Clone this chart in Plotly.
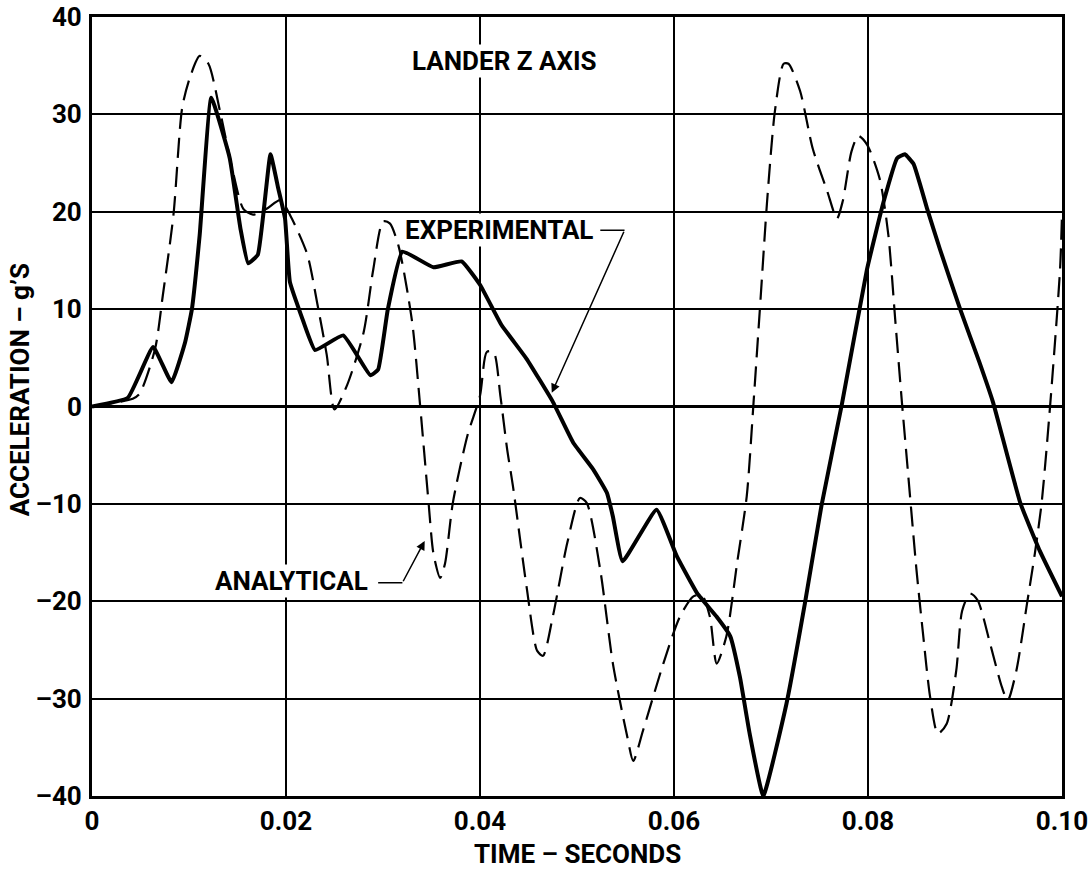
import plotly.graph_objects as go

# Lander Z-axis acceleration response: experimental vs analytical
exp_t = [0.0, 0.0037, 0.0063, 0.0082, 0.0096, 0.0103, 0.0111, 0.0123, 0.0142, 0.0153,
         0.0161, 0.0171, 0.0184, 0.0192, 0.0199, 0.0204, 0.0218, 0.0230, 0.0259, 0.0287,
         0.0295, 0.0305, 0.0320, 0.0352, 0.0381, 0.0400, 0.0422, 0.0448, 0.0475, 0.0496,
         0.0517, 0.0531, 0.0537, 0.0547, 0.0582, 0.0603, 0.0624, 0.0644, 0.0658, 0.0668,
         0.0678, 0.0692, 0.0716, 0.0735, 0.0752, 0.0773, 0.0799, 0.0816, 0.0830, 0.0838,
         0.0847, 0.0861, 0.0874, 0.0895, 0.0915, 0.0929, 0.0957, 0.0977, 0.1000]
exp_g = [0.0, 0.9, 6.1, 2.5, 6.6, 10.0, 17.6, 31.7, 25.5, 18.3,
         14.7, 15.6, 25.9, 22.4, 19.3, 12.8, 8.7, 5.8, 7.3, 3.2,
         3.8, 10.0, 15.9, 14.3, 14.9, 12.5, 8.4, 4.9, 0.5, -3.7,
         -6.5, -8.9, -11.3, -15.9, -10.6, -15.4, -19.2, -21.6, -23.6, -27.8,
         -33.6, -40.0, -30.5, -20.2, -10.2, 0.2, 14.1, 21.0, 25.5, 25.9,
         24.9, 20.3, 16.2, 10.0, 4.5, 0.4, -9.9, -14.8, -19.5]

ana_t = [0.0, 0.0042, 0.0049, 0.0065, 0.0073, 0.0084, 0.0093, 0.0101, 0.0111, 0.0120,
         0.0132, 0.0146, 0.0156, 0.0166, 0.0180, 0.0194, 0.0204, 0.0222, 0.0232, 0.0242,
         0.0250, 0.0263, 0.0280, 0.0290, 0.0300, 0.0307, 0.0316, 0.0330, 0.0338, 0.0347,
         0.0352, 0.0359, 0.0364, 0.0372, 0.0387, 0.0400, 0.0407, 0.0414, 0.0421, 0.0428,
         0.0434, 0.0448, 0.0459, 0.0465, 0.0475, 0.0490, 0.0503, 0.0510, 0.0524, 0.0537,
         0.0552, 0.0558, 0.0568, 0.0589, 0.0606, 0.0620, 0.0629, 0.0637, 0.0644, 0.0654,
         0.0665, 0.0675, 0.0682, 0.0689, 0.0696, 0.0704, 0.0713, 0.0718, 0.0730, 0.0743,
         0.0758, 0.0768, 0.0774, 0.0783, 0.0790, 0.0799, 0.0812, 0.0821, 0.0828, 0.0835,
         0.0841, 0.0850, 0.0857, 0.0864, 0.0872, 0.0881, 0.0891, 0.0897, 0.0905, 0.0913,
         0.0926, 0.0938, 0.0944, 0.0953, 0.0964, 0.0972, 0.0979, 0.0988, 0.0998, 0.1000]
ana_g = [0.0, 0.8, 1.3, 5.9, 11.4, 19.7, 30.7, 33.8, 36.0, 35.2,
         30.3, 23.8, 20.3, 19.7, 20.3, 21.2, 19.7, 15.6, 10.7, 5.3,
         -0.3, 2.2, 7.6, 14.1, 19.0, 18.8, 16.5, 8.7, 0.4, -9.9,
         -15.1, -17.6, -16.1, -9.9, -3.0, 1.1, 5.6, 5.6, 1.1, -4.4,
         -8.2, -18.5, -25.1, -25.6, -21.6, -14.0, -9.4, -9.9, -16.8, -26.4,
         -34.0, -36.4, -33.3, -26.4, -21.6, -19.5, -19.4, -21.6, -26.4, -23.6,
         -16.1, -9.2, 0.4, 10.7, 21.1, 30.3, 35.2, 35.2, 32.4, 26.5,
         22.1, 19.3, 21.1, 26.2, 27.8, 26.9, 23.4, 17.6, 9.0, 0.4,
         -6.5, -16.8, -23.6, -29.8, -33.6, -32.6, -27.1, -21.0, -19.2, -19.9,
         -24.4, -28.8, -30.2, -27.1, -20.2, -15.1, -9.9, 0.4, 14.1, 19.7]

x_ticks = [0, 0.02, 0.04, 0.06, 0.08, 0.0999999]
x_tick_text = ["0", "0.02", "0.04", "0.06", "0.08", "0.10"]
y_ticks = [-40, -30, -20, -10, 0, 10, 20, 30, 40]
y_tick_text = ["\u201340", "\u201330", "\u201320", "\u201310", "0", "10", "20", "30", "40"]

FONT = "Roboto, sans-serif"

fig = go.Figure()

fig.add_trace(go.Scatter(
    x=ana_t, y=ana_g, mode="lines", name="ANALYTICAL",
    line=dict(color="black", width=2.2, dash="20px,9px", shape="spline", smoothing=0.7),
))
fig.add_trace(go.Scatter(
    x=exp_t, y=exp_g, mode="lines", name="EXPERIMENTAL",
    line=dict(color="black", width=4, shape="spline", smoothing=0.35),
))

label_font = dict(family=FONT, size=26, color="black", weight="bold")

annotations = [
    dict(x=0.0425, y=35.5, text="LANDER Z AXIS", showarrow=False, xref="x", yref="y",
         xanchor="center", yanchor="middle", font=label_font, bgcolor="white", borderpad=1),
    dict(x=0.0519, y=18.1, text="EXPERIMENTAL", showarrow=False, xref="x", yref="y",
         xanchor="right", yanchor="middle", font=label_font, bgcolor="white", borderpad=1),
    dict(x=0.0287, y=-17.9, text="ANALYTICAL", showarrow=False, xref="x", yref="y",
         xanchor="right", yanchor="middle", font=label_font, bgcolor="white", borderpad=1),
    # leader arrows
    dict(x=0.0474, y=1.4, ax=0.0549, ay=18.1, xref="x", yref="y", axref="x", ayref="y",
         text="", showarrow=True, arrowhead=2, arrowsize=1.2, arrowwidth=1.5, arrowcolor="black"),
    dict(x=0.0343, y=-13.8, ax=0.0320, ay=-18.1, xref="x", yref="y", axref="x", ayref="y",
         text="", showarrow=True, arrowhead=2, arrowsize=1.2, arrowwidth=1.5, arrowcolor="black"),
    # axis titles
    dict(x=0.5, y=-0.075, xref="paper", yref="paper", text="TIME \u2013 SECONDS",
         showarrow=False, xanchor="center", yanchor="middle", font=label_font),
    dict(x=-0.074, y=0.521, xref="paper", yref="paper", text="ACCELERATION \u2013 g\u2019S",
         showarrow=False, xanchor="center", yanchor="middle", textangle=-90, font=label_font),
]

shapes = [
    dict(type="line", xref="x", yref="y", x0=0.0524, y0=18.1, x1=0.0549, y1=18.1,
         line=dict(color="black", width=1.5)),
    dict(type="line", xref="x", yref="y", x0=0.0295, y0=-18.1, x1=0.0320, y1=-18.1,
         line=dict(color="black", width=1.5)),
    # heavier zero line
    dict(type="line", xref="paper", yref="y", x0=0, y0=0, x1=1, y1=0,
         line=dict(color="black", width=3), layer="below"),
]

fig.update_layout(
    width=1090, height=872,
    margin=dict(l=92, r=28, t=17, b=76, autoexpand=False),
    paper_bgcolor="white", plot_bgcolor="white",
    showlegend=False,
    font=dict(family=FONT, color="black"),
    annotations=annotations,
    shapes=shapes,
)

fig.update_xaxes(
    range=[0, 0.1], tickvals=x_ticks, ticktext=x_tick_text,
    showgrid=True, gridcolor="black", gridwidth=2,
    showline=True, linecolor="black", linewidth=3, mirror=True,
    ticks="", ticklabelstandoff=0, zeroline=False, automargin=False,
    tickfont=label_font,
)
fig.update_yaxes(
    range=[-40, 40], tickvals=y_ticks, ticktext=y_tick_text,
    showgrid=True, gridcolor="black", gridwidth=2,
    showline=True, linecolor="black", linewidth=3, mirror=True,
    ticks="", ticklabelstandoff=2, zeroline=False, automargin=False,
    tickfont=label_font,
)

fig.write_html("out.html")
